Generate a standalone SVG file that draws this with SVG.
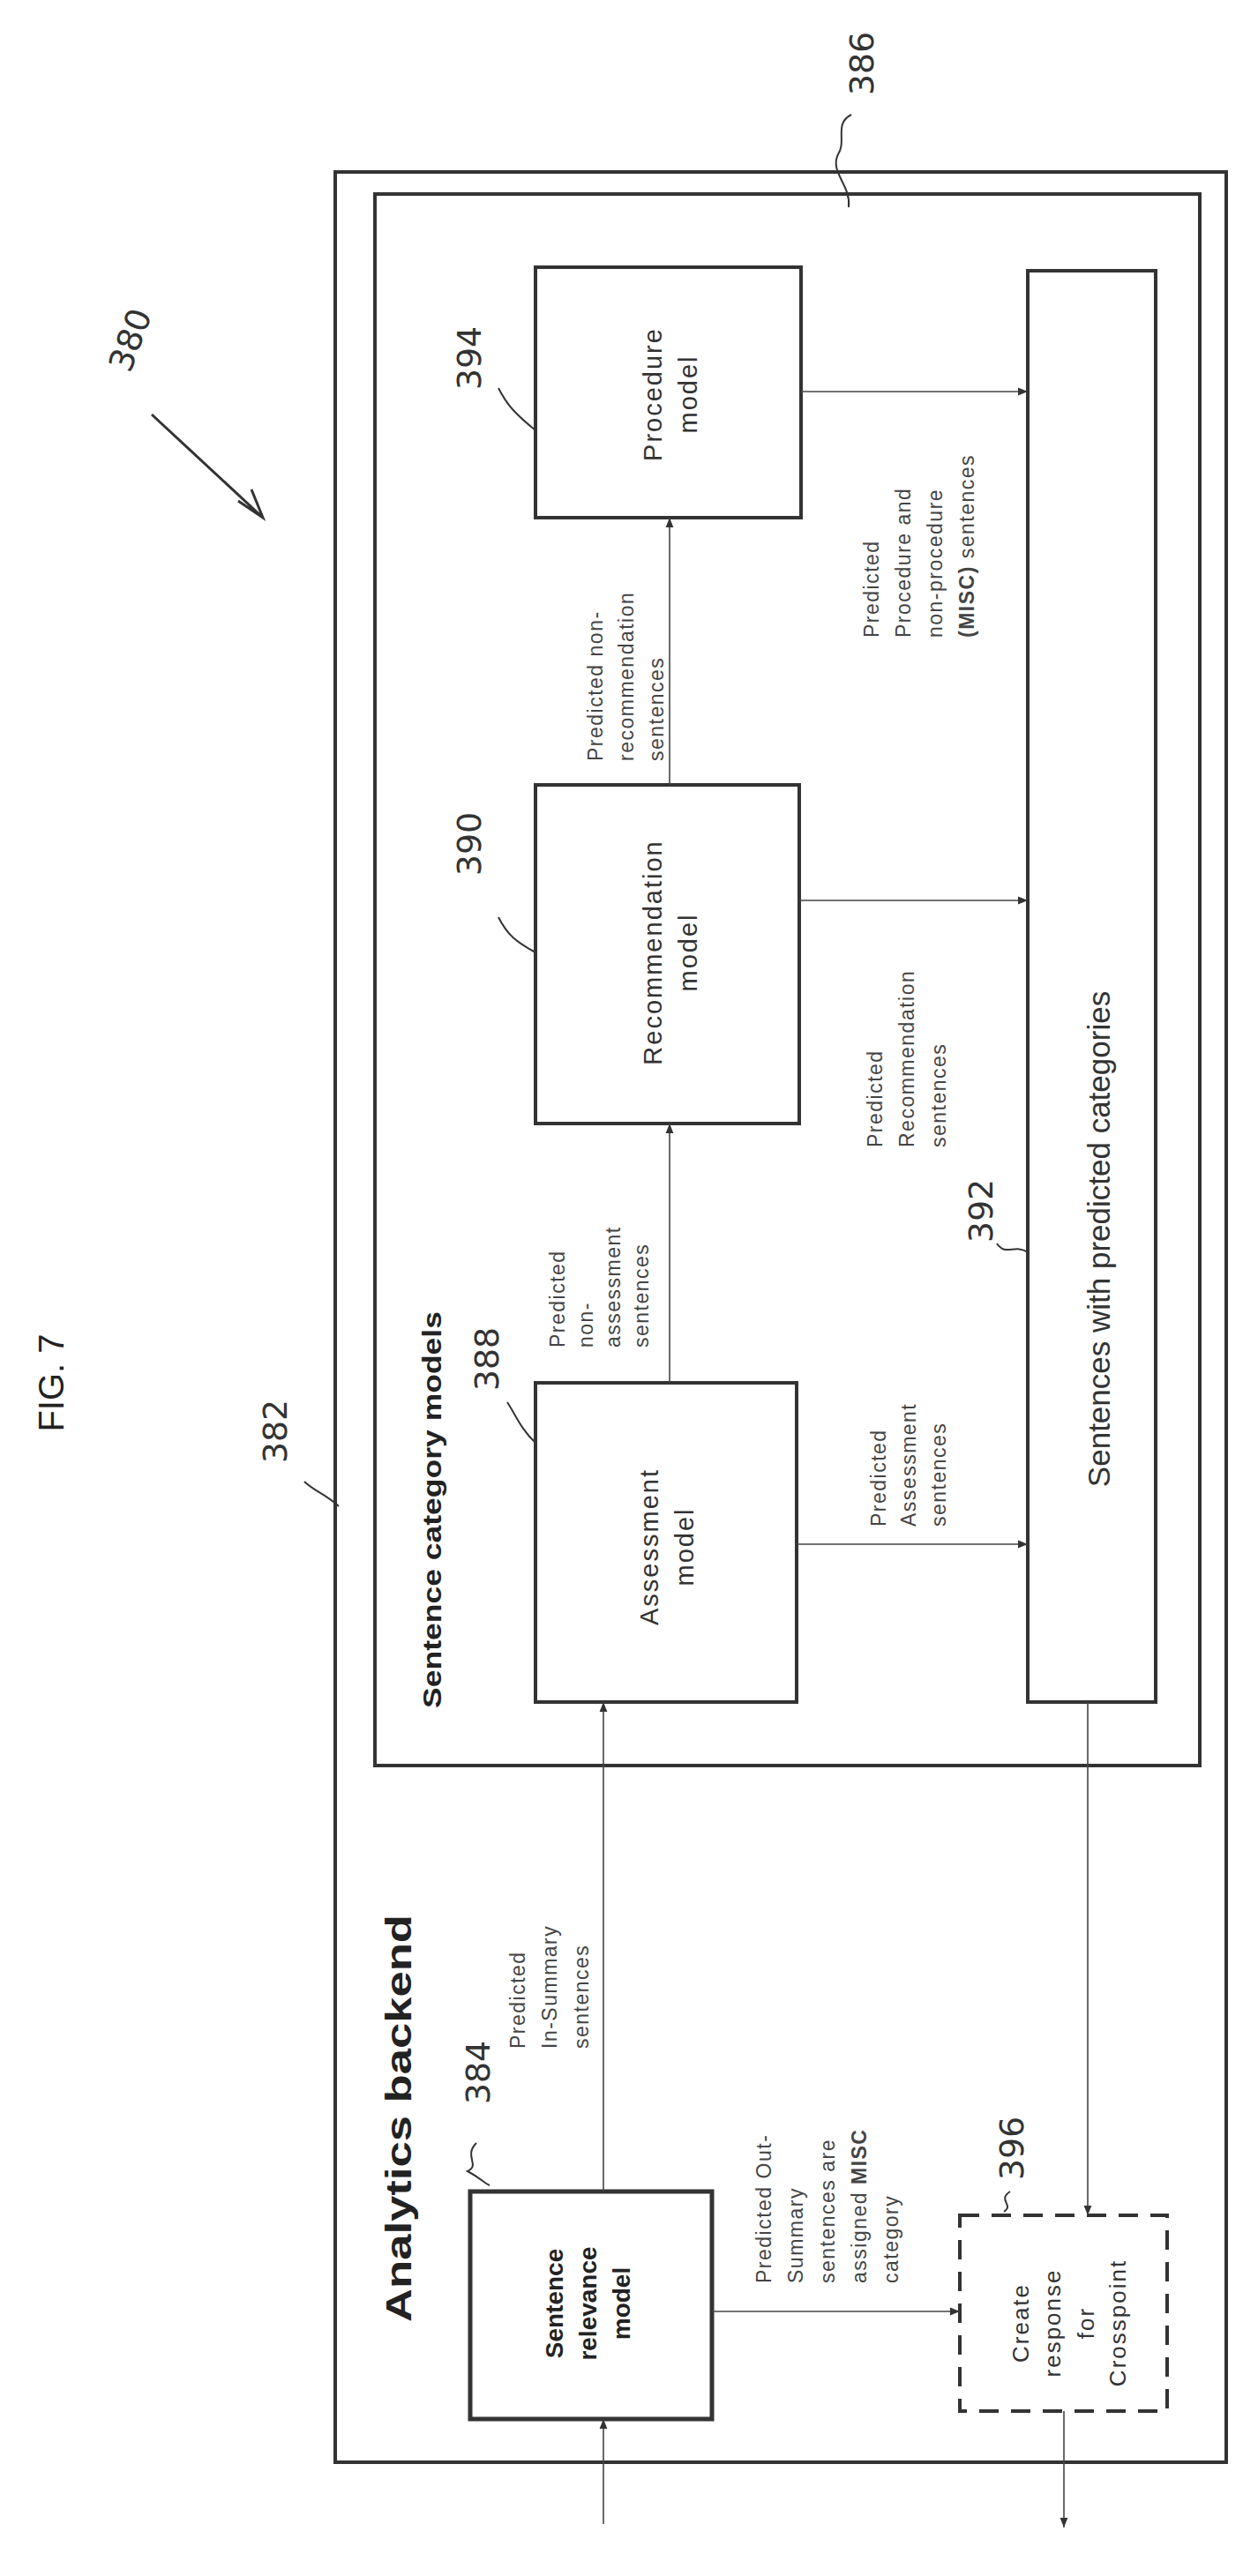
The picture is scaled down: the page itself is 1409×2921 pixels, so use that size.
<svg xmlns="http://www.w3.org/2000/svg" width="1409" height="2921" viewBox="0 0 1409 2921">
<style>
.b{fill:none;stroke:#333;stroke-width:4}
.c{fill:none;stroke:#444;stroke-width:1.6}
.t{font-family:"Liberation Sans",sans-serif;font-size:29px;letter-spacing:2px;fill:#333}
.l{font-family:"Liberation Sans",sans-serif;font-size:23px;letter-spacing:1.5px;fill:#444}
.h{font-family:"Liberation Sans",sans-serif;font-weight:bold;fill:#222}
.n{font-family:"DejaVu Sans",sans-serif;font-size:38px;fill:#333}
.ld{fill:none;stroke:#333;stroke-width:2}
</style>
<defs><marker id="a" viewBox="0 0 10 10" refX="10" refY="5" markerWidth="7" markerHeight="7" orient="auto"><path d="M0,1 L10,5 L0,9 z" fill="#333"/></marker></defs>
<rect width="1409" height="2921" fill="#fff"/>
<text class="h" style="font-weight:normal;font-size:40px" transform="translate(72,1568) rotate(-90)" text-anchor="middle">FIG. 7</text>
<g id="backend"><rect class="b" x="380" y="195" width="1010" height="2597"/>
<text class="h" font-size="40" transform="translate(466,2402) rotate(-90)" text-anchor="middle" textLength="462" lengthAdjust="spacingAndGlyphs">Analytics backend</text></g>
<g id="category"><rect class="b" x="425" y="220" width="935" height="1782"/>
<text class="h" font-size="29" transform="translate(500,1712) rotate(-90)" text-anchor="middle" textLength="450" lengthAdjust="spacingAndGlyphs">Sentence category models</text></g>
<g id="procedure"><rect class="b" x="607" y="303" width="301" height="284"/>
<text class="t" transform="translate(750,447) rotate(-90)" text-anchor="middle">Procedure</text>
<text class="t" transform="translate(790,447) rotate(-90)" text-anchor="middle">model</text></g>
<g id="recommendation"><rect class="b" x="607" y="890" width="299" height="384"/>
<text class="t" transform="translate(750,1080) rotate(-90)" text-anchor="middle">Recommendation</text>
<text class="t" transform="translate(790,1080) rotate(-90)" text-anchor="middle">model</text></g>
<g id="assessment"><rect class="b" x="607" y="1568" width="296" height="362"/>
<text class="t" transform="translate(746,1754) rotate(-90)" text-anchor="middle">Assessment</text>
<text class="t" transform="translate(786,1754) rotate(-90)" text-anchor="middle">model</text></g>
<g id="sentences"><rect class="b" x="1165" y="307" width="145" height="1623"/>
<text class="t" style="font-size:35px;letter-spacing:0" transform="translate(1258,1405) rotate(-90)" text-anchor="middle">Sentences with predicted categories</text></g>
<g id="relevance"><rect class="b" style="stroke-width:5" x="533" y="2485" width="274" height="258"/>
<text class="h" font-size="28" transform="translate(638,2612) rotate(-90)" text-anchor="middle">Sentence</text>
<text class="h" font-size="28" transform="translate(676,2612) rotate(-90)" text-anchor="middle">relevance</text>
<text class="h" font-size="28" transform="translate(714,2612) rotate(-90)" text-anchor="middle">model</text></g>
<g id="create"><rect class="b" style="stroke-dasharray:22,14" x="1088" y="2512" width="235" height="222"/>
<text class="t" style="font-size:26px" transform="translate(1166,2634) rotate(-90)" text-anchor="middle">Create</text>
<text class="t" style="font-size:26px" transform="translate(1202,2634) rotate(-90)" text-anchor="middle">response</text>
<text class="t" style="font-size:26px" transform="translate(1240,2634) rotate(-90)" text-anchor="middle">for</text>
<text class="t" style="font-size:26px" transform="translate(1276,2634) rotate(-90)" text-anchor="middle">Crosspoint</text></g>
<g id="connectors">
<path class="c" d="M908,444 H1165" marker-end="url(#a)"/>
<path class="c" d="M906,1021 H1165" marker-end="url(#a)"/>
<path class="c" d="M903,1751 H1165" marker-end="url(#a)"/>
<path class="c" d="M759,890 V587" marker-end="url(#a)"/>
<path class="c" d="M759,1568 V1274" marker-end="url(#a)"/>
<path class="c" d="M684,2485 V1930" marker-end="url(#a)"/>
<path class="c" d="M807,2621 H1088" marker-end="url(#a)"/>
<path class="c" d="M1233,1930 V2512" marker-end="url(#a)"/>
<path class="c" d="M684,2862 V2743" marker-end="url(#a)"/>
<path class="c" d="M1206,2734 V2866" marker-end="url(#a)"/>
</g>
<g id="labels">
<text class="l" transform="translate(683,863) rotate(-90)">Predicted non-</text>
<text class="l" transform="translate(718,863) rotate(-90)">recommendation</text>
<text class="l" transform="translate(752,863) rotate(-90)">sentences</text>
<text class="l" transform="translate(996,723) rotate(-90)">Predicted</text>
<text class="l" transform="translate(1032,723) rotate(-90)">Procedure and</text>
<text class="l" transform="translate(1068,723) rotate(-90)">non-procedure</text>
<text class="l" transform="translate(1104,723) rotate(-90)"><tspan font-weight="bold">(MISC)</tspan> sentences</text>
<text class="l" transform="translate(1000,1301) rotate(-90)">Predicted</text>
<text class="l" transform="translate(1036,1301) rotate(-90)">Recommendation</text>
<text class="l" transform="translate(1072,1301) rotate(-90)">sentences</text>
<text class="l" transform="translate(640,1528) rotate(-90)">Predicted</text>
<text class="l" transform="translate(672,1528) rotate(-90)">non-</text>
<text class="l" transform="translate(703,1528) rotate(-90)">assessment</text>
<text class="l" transform="translate(735,1528) rotate(-90)">sentences</text>
<text class="l" transform="translate(1004,1731) rotate(-90)">Predicted</text>
<text class="l" transform="translate(1038,1731) rotate(-90)">Assessment</text>
<text class="l" transform="translate(1072,1731) rotate(-90)">sentences</text>
<text class="l" transform="translate(595,2323) rotate(-90)">Predicted</text>
<text class="l" transform="translate(631,2323) rotate(-90)">In-Summary</text>
<text class="l" transform="translate(667,2323) rotate(-90)">sentences</text>
<text class="l" transform="translate(874,2589) rotate(-90)">Predicted Out-</text>
<text class="l" transform="translate(910,2589) rotate(-90)">Summary</text>
<text class="l" transform="translate(946,2589) rotate(-90)">sentences are</text>
<text class="l" transform="translate(982,2589) rotate(-90)">assigned <tspan font-weight="bold">MISC</tspan></text>
<text class="l" transform="translate(1018,2589) rotate(-90)">category</text>
</g>
<g id="refs">
<text class="n" transform="translate(160,390) rotate(-70)" text-anchor="middle">380</text>
<path class="ld" style="stroke-width:3" d="M172,470 L298,587 M270,568 L298,587 L285,555"/>
<text class="n" transform="translate(990,72) rotate(-90)" text-anchor="middle">386</text>
<path class="ld" d="M965,130 C945,140 960,160 950,175 C940,195 965,210 962,235"/>
<text class="n" transform="translate(545,406) rotate(-90)" text-anchor="middle">394</text>
<path class="ld" d="M565,440 C575,460 585,470 607,488"/>
<text class="n" transform="translate(545,957) rotate(-90)" text-anchor="middle">390</text>
<path class="ld" d="M565,1040 C575,1060 585,1068 607,1080"/>
<text class="n" transform="translate(1125,1373) rotate(-90)" text-anchor="middle">392</text>
<path class="ld" d="M1130,1410 C1140,1425 1150,1410 1165,1420"/>
<text class="n" transform="translate(565,1541) rotate(-90)" text-anchor="middle">388</text>
<path class="ld" d="M575,1590 C585,1605 590,1620 607,1636"/>
<text class="n" transform="translate(325,1623) rotate(-90)" text-anchor="middle">382</text>
<path class="ld" d="M345,1680 C355,1690 370,1695 384,1708"/>
<text class="n" transform="translate(555,2350) rotate(-90)" text-anchor="middle">384</text>
<path class="ld" d="M540,2430 C525,2445 545,2455 530,2462 C545,2470 550,2476 555,2478"/>
<text class="n" transform="translate(1160,2436) rotate(-90)" text-anchor="middle">396</text>
<path class="ld" d="M1145,2485 C1130,2495 1150,2500 1138,2508"/>
</g>
</svg>
